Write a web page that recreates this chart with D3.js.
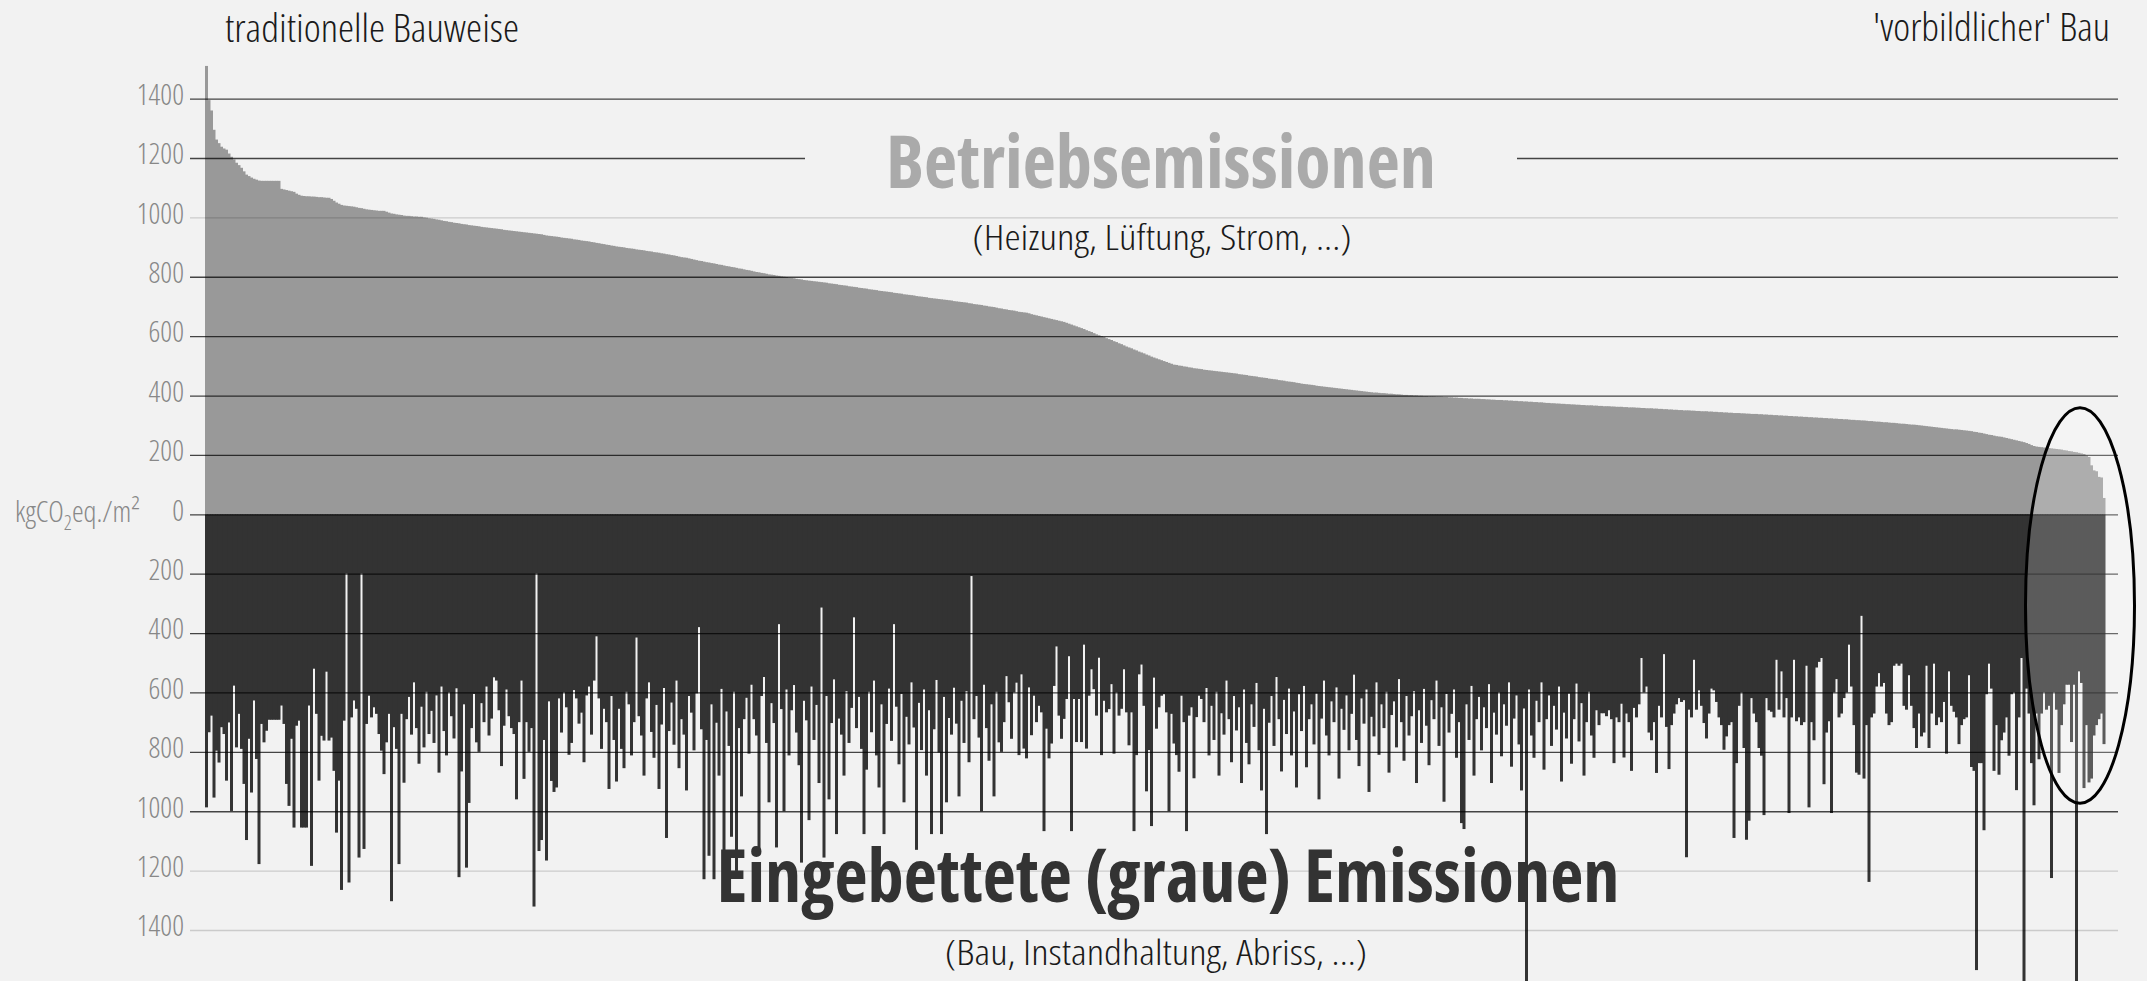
<!DOCTYPE html>
<html><head><meta charset="utf-8">
<script src="https://cdn.jsdelivr.net/npm/d3@7"></script>
<style>
html,body{margin:0;padding:0;background:#f2f2f2;}
svg{display:block;}
text{font-family:"Open Sans","Noto Sans",sans-serif;font-stretch:75%;}
</style></head><body>
<svg id="chart" width="2147" height="981"></svg>
<script>
// Operational emissions per building (kgCO2eq./m²), sorted descending
const operational = [
1510,1395,1360,1295,1262,1250,1238,1232,1228,1215,1204,1195,1184,1176,1167,1155,1144,1139,1134,1130,
1127,1124,1123,1123,1123,1123,1123,1123,1123,1123,1096,1094,1092,1090,1088,1086,1080,1076,1073,1072,
1071,1071,1070,1070,1069,1068,1068,1067,1066,1066,1062,1056,1050,1046,1042,1040,1039,1038,1037,1036,
1034,1032,1031,1029,1027,1026,1025,1024,1023,1022,1022,1022,1019,1016,1013,1012,1010,1009,1008,1006,
1005,1005,1004,1003,1003,1002,1002,1000,999,997,996,995,993,992,990,988,987,985,984,982,
981,980,978,977,976,974,973,972,971,970,968,967,966,965,964,963,962,961,960,958,
957,956,955,954,953,952,951,950,949,948,947,946,945,944,943,941,939,938,937,936,
935,934,932,931,930,929,928,926,925,924,922,921,920,919,917,916,914,913,911,910,
908,907,905,904,902,901,900,899,897,896,895,894,892,891,890,889,887,886,885,883,
882,881,879,878,876,875,873,872,870,868,866,865,864,862,860,858,856,854,853,851,
849,848,846,845,843,841,840,838,836,835,833,832,830,828,827,825,823,822,820,818,
816,815,813,812,810,808,807,806,804,803,801,800,799,797,796,795,793,792,791,789,
788,787,786,785,784,783,782,781,780,778,777,776,775,773,772,771,770,768,767,766,
765,763,762,761,760,758,757,756,755,753,752,751,750,749,748,746,745,744,743,741,
740,739,738,737,735,734,733,732,731,729,728,727,726,725,724,723,722,721,720,718,
717,716,715,714,713,711,710,708,707,706,705,703,702,700,699,698,696,694,693,691,
690,688,687,686,684,682,681,680,679,677,674,672,670,668,666,664,662,660,658,656,
654,652,650,648,645,642,639,636,633,630,627,624,620,617,614,610,606,603,600,597,
593,590,587,583,580,576,573,569,565,562,559,555,552,548,545,542,538,535,531,528,
525,522,519,516,513,510,507,504,503,501,500,498,497,495,494,492,491,490,489,487,
486,485,484,483,482,481,480,479,478,477,476,475,474,472,471,470,469,467,466,465,
464,462,461,460,459,457,456,455,454,452,451,450,448,447,446,445,443,442,440,439,
438,437,436,435,433,432,431,430,429,428,427,426,425,424,423,422,421,420,419,418,
417,416,415,414,413,412,411,410,410,409,408,408,407,406,406,405,404,404,403,402,
402,401,401,400,400,399,399,398,398,397,397,397,396,396,396,395,395,394,394,393,
393,392,392,391,391,390,390,389,389,389,388,388,387,387,386,386,385,385,385,384,
384,383,383,382,382,381,381,380,380,379,379,378,378,377,377,376,375,375,374,374,
373,373,372,372,371,371,370,370,369,369,368,368,367,367,367,366,366,365,365,364,
364,364,363,363,362,362,362,361,361,360,360,360,359,359,358,358,357,357,357,356,
356,355,355,354,354,353,353,352,352,351,351,350,350,350,349,349,348,348,347,347,
347,346,346,345,345,344,344,343,343,342,342,341,341,341,340,340,339,339,338,338,
338,337,337,336,336,335,335,334,334,333,333,332,332,331,331,330,330,329,329,328,
328,327,327,326,326,325,325,324,324,323,323,322,322,321,321,320,320,319,318,318,
317,317,316,316,315,314,314,313,312,312,311,310,310,309,308,308,307,306,305,305,
304,303,302,302,301,300,299,298,297,296,295,294,293,292,291,290,289,288,287,286,
286,285,284,283,282,281,280,278,277,275,274,272,270,268,267,265,263,262,261,259,
257,255,253,251,249,247,245,243,240,237,233,230,228,227,226,225,224,223,222,221,
220,219,218,216,215,213,212,210,209,207,205,203,198,193,165,148,145,126,124,55
];
// Embedded (grey) emissions per building, same order (kgCO2eq./m², drawn downward)
const embedded = [
987,734,678,954,796,836,717,740,897,701,999,577,785,672,790,908,1097,756,937,627,
824,1178,706,768,729,692,692,692,692,692,644,706,908,982,756,1055,712,695,1055,1055,
1055,644,1184,520,672,897,746,762,530,762,752,864,1072,897,1265,695,200,1240,684,627,
655,1156,200,1127,706,611,684,650,672,740,796,875,768,672,1303,717,790,1178,672,904,
690,615,742,566,720,840,648,785,598,740,662,770,610,870,580,730,812,600,680,755,
586,1222,866,640,1190,972,720,605,768,800,636,700,580,745,688,549,560,660,848,712,
590,680,720,740,960,700,560,891,700,800,720,1321,200,1134,1097,760,1166,630,898,935,
920,620,735,600,650,810,770,592,620,705,668,835,610,580,742,560,411,620,790,655,
700,925,612,760,900,655,790,855,598,640,812,700,415,680,745,880,620,566,733,820,
642,925,708,585,1090,730,634,776,560,855,690,742,930,612,668,795,603,380,724,1229,
760,1150,640,1229,702,880,588,1229,664,780,1086,598,1201,720,950,690,618,806,574,690,
745,1145,612,548,770,970,636,703,1122,370,656,1000,590,812,660,575,735,845,1173,628,
694,1030,580,760,642,905,314,1156,612,960,703,556,1077,688,742,880,596,770,652,347,
720,615,790,1077,860,598,734,560,812,920,640,1077,706,587,763,370,648,842,605,970,
682,775,566,718,1130,635,794,590,880,660,1077,724,558,802,1077,615,970,686,742,584,
705,950,628,770,596,835,208,690,612,752,1000,574,720,830,640,950,598,768,800,700,
545,633,756,600,567,811,539,789,822,583,744,611,700,645,667,1067,722,822,772,578,
445,678,756,689,622,478,1067,622,767,622,767,439,789,611,522,589,678,483,811,628,
667,656,572,806,600,678,655,522,667,778,667,1067,811,539,506,645,933,794,1050,550,
722,650,611,606,667,1000,672,772,811,867,611,700,1067,678,650,889,683,611,622,700,
585,812,645,760,598,880,670,742,560,690,835,612,728,650,905,590,770,842,640,716,
568,795,930,655,1077,702,612,780,548,690,866,625,740,587,812,664,920,606,730,578,
852,690,640,775,604,960,688,560,745,812,630,700,583,890,655,726,610,795,672,540,
760,848,620,705,590,935,682,748,566,810,640,720,598,870,676,630,785,555,700,830,
612,745,680,596,905,660,770,588,712,845,626,690,560,780,650,968,605,735,672,590,
820,700,1040,1060,640,760,578,880,690,615,795,650,720,572,905,668,742,600,815,640,
712,566,850,688,610,775,930,654,1700,590,745,820,628,700,566,860,690,610,780,645,
725,580,900,668,755,604,840,690,570,765,636,880,700,598,745,820,660,710,670,670,
680,660,690,838,684,700,638,819,671,700,864,652,684,640,484,600,580,735,761,700,
871,645,684,471,716,858,710,671,640,619,632,626,1155,658,684,490,658,593,645,703,
755,671,587,593,632,684,710,793,748,710,700,1090,838,645,600,787,1096,1032,619,671,
700,787,813,1013,619,660,665,684,490,658,529,684,619,1006,684,490,697,684,710,700,
510,987,700,761,516,497,484,909,735,697,1006,600,555,684,671,619,600,439,580,710,
870,877,342,890,710,1238,684,671,580,535,580,568,671,710,700,510,503,510,503,645,
658,542,645,720,787,671,748,735,510,787,671,503,710,684,700,632,806,529,645,665,
684,774,710,690,684,542,851,864,1535,838,838,1064,606,503,587,864,710,877,761,735,
684,813,606,600,929,684,484,1700,587,671,838,980,671,825,671,600,658,645,1225,600,
658,871,710,640,574,574,767,574,1700,529,568,922,710,903,890,745,710,690,671,774
];
const tickValues = [1400,1200,1000,800,600,400,200,0,-200,-400,-600,-800,-1000,-1200,-1400];
const lightTicks = [1000,-1200,-1400];
const leftLabel = "traditionelle Bauweise";
const rightLabel = "'vorbildlicher' Bau";
const topTitle = "Betriebsemissionen";
const topSubtitle = "(Heizung, Lüftung, Strom, ...)";
const bottomTitle = "Eingebettete (graue) Emissionen";
const bottomSubtitle = "(Bau, Instandhaltung, Abriss, ...)";
// highlighted group (ellipse) in data units: centre bar index / value, radii in bars / value units
const highlight = {index: 750, value: -307, rBars: 21.8, rValue: 666};

const svg = d3.select("#chart");
const N = operational.length;
const x = d3.scaleBand().domain(d3.range(N)).range([205, 2105]).padding(0);
const y = d3.scaleLinear().domain([-1400, 1400]).range([930, 98.6]);
const bw = x.bandwidth();

// bars
svg.append("g").selectAll("rect").data(operational).join("rect")
  .attr("x", (d, i) => x(i)).attr("width", bw + 0.5)
  .attr("y", d => y(d)).attr("height", d => y(0) - y(d))
  .attr("fill", "#999999");
svg.append("g").selectAll("rect").data(embedded).join("rect")
  .attr("x", (d, i) => x(i)).attr("width", bw + 0.5)
  .attr("y", y(0)).attr("height", d => y(-d) - y(0))
  .attr("fill", "#333333");

// gridlines + tick labels
const axis = d3.axisLeft(y).tickValues(tickValues)
  .tickSize(-(2118 - 190)).tickPadding(6).tickFormat(d => Math.abs(d));
const gAxis = svg.append("g").attr("transform", "translate(190,0)").call(axis)
  .attr("font-family", null).attr("font-size", null);
gAxis.select(".domain").remove();
gAxis.selectAll(".tick line")
  .attr("stroke", "#000")
  .attr("stroke-opacity", d => lightTicks.includes(d) ? 0.16 : 0.72)
  .attr("stroke-width", 1.3);
gAxis.selectAll(".tick text")
  .attr("dy", "0.2em")
  .style("font-size", "29px").style("font-weight", 300).attr("fill", "#888");

// highlight ellipse
svg.append("ellipse")
  .attr("cx", x(highlight.index)).attr("cy", y(highlight.value))
  .attr("rx", highlight.rBars * bw).attr("ry", y(0) - y(highlight.rValue))
  .attr("fill", "#fff").attr("fill-opacity", 0.2)
  .attr("stroke", "#000").attr("stroke-width", 3);

// gap in 1200 line behind title
const gap = svg.append("rect").attr("fill", "#f2f2f2");

function label(txt, px, py, opts) {
  const t = svg.append("text").attr("x", px).attr("y", py)
    .attr("text-anchor", opts.anchor || "start")
    .style("font-size", opts.size + "px").style("font-weight", opts.weight || 400)
    .attr("fill", opts.fill || "#1a1a1a").text(txt);
  if (opts.len) t.attr("textLength", opts.len).attr("lengthAdjust", "spacingAndGlyphs");
  return t;
}
const tTitle = label(topTitle, 1161, 188, {anchor: "middle", size: 74, weight: 700, fill: "#aaaaaa", len: 550});
label(topSubtitle, 1162, 250, {anchor: "middle", size: 34, weight: 300, len: 379});
label(bottomTitle, 1168, 902, {anchor: "middle", size: 73, weight: 700, fill: "#333333", len: 903});
label(bottomSubtitle, 1156, 965, {anchor: "middle", size: 34, weight: 300, len: 422});
label(leftLabel, 225, 42, {size: 38, weight: 300, len: 294});
label(rightLabel, 2110, 41, {anchor: "end", size: 38, weight: 300, len: 237});

const unit = svg.append("text").attr("x", 15).attr("y", 522)
  .style("font-size", "30px").style("font-weight", 300).attr("fill", "#888");
unit.append("tspan").text("kgCO");
unit.append("tspan").text("2").style("font-size", "20px").attr("dy", 8);
unit.append("tspan").text("eq./m²").attr("dy", -8);
unit.attr("textLength", 125).attr("lengthAdjust", "spacingAndGlyphs");

const bb = tTitle.node().getBBox();
gap.attr("x", bb.x - 81).attr("width", bb.width + 162)
   .attr("y", y(1200) - 4).attr("height", 8);
</script>
</body></html>
